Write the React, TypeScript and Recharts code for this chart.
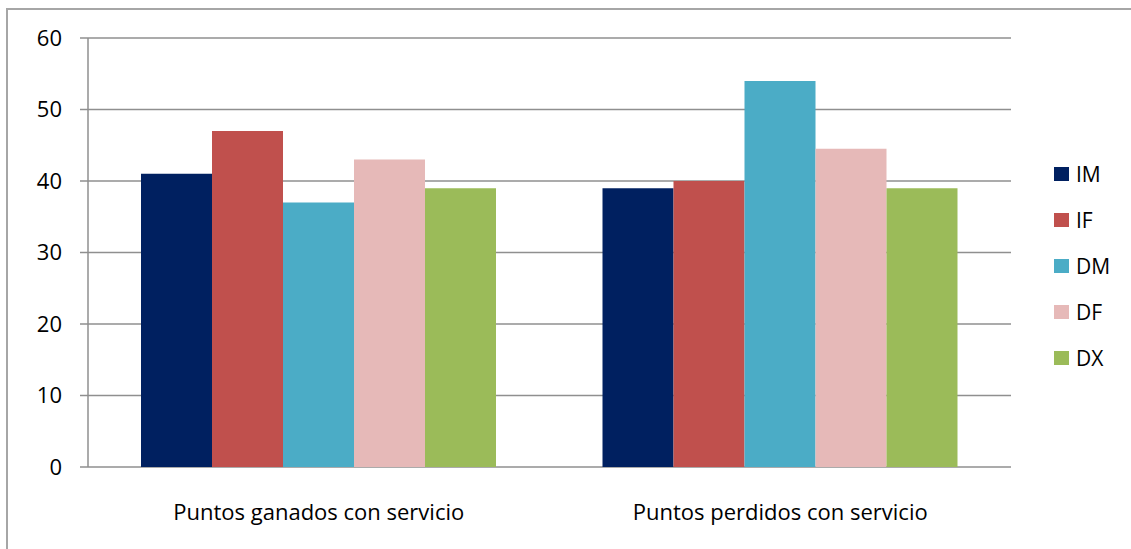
import { BarChart, Bar, XAxis, YAxis, CartesianGrid } from "recharts";

const categories = ["Puntos ganados con servicio", "Puntos perdidos con servicio"];
const imValues = [41, 39];
const ifValues = [47, 40];
const dmValues = [37, 54];
const dfValues = [43, 44.5];
const dxValues = [39, 39];
const yTicks = [0, 10, 20, 30, 40, 50, 60];
const boundaryTicks = [0, 1, 2];

const SERIES = [
  { key: "IM", color: "#002060" },
  { key: "IF", color: "#C0504D" },
  { key: "DM", color: "#4BACC6" },
  { key: "DF", color: "#E6B9B8" },
  { key: "DX", color: "#9BBB59" },
];

const data = categories.map((name, i) => ({
  name,
  pos: i + 0.5,
  IM: imValues[i],
  IF: ifValues[i],
  DM: dmValues[i],
  DF: dfValues[i],
  DX: dxValues[i],
}));

const FONT = "'Open Sans', sans-serif";
const GRID = "#8f8f8f";

function LegendBox() {
  return (
    <div style={{ position: "absolute", left: 1054, top: 151, fontFamily: FONT, fontSize: 21, color: "#000" }}>
      {SERIES.map((s) => (
        <div key={s.key} style={{ display: "flex", alignItems: "center", height: 46 }}>
          <span style={{ width: 15, height: 14, background: s.color, marginRight: 7 }} />
          <span>{s.key}</span>
        </div>
      ))}
    </div>
  );
}

export default function App() {
  return (
    <div style={{ position: "absolute", left: 0, top: 0, width: 1131, height: 549, background: "#fff", overflow: "hidden" }}>
      <div
        style={{
          position: "absolute",
          left: 6,
          top: 8,
          width: 1131,
          height: 549,
          borderLeft: "2px solid #a6a6a6",
          borderTop: "2px solid #a6a6a6",
        }}
      />
      <div style={{ position: "absolute", left: 0, top: 0 }}>
        <BarChart
          width={1131}
          height={549}
          data={data}
          margin={{ top: 38, right: 120, left: 0, bottom: 0 }}
          barCategoryGap={53}
          barGap={0}
        >
          <CartesianGrid stroke={GRID} strokeWidth={1.5} vertical={false} />
          <XAxis
            xAxisId="bounds"
            type="number"
            dataKey="pos"
            domain={[0, 2]}
            ticks={boundaryTicks}
            tick={false}
            tickSize={8}
            axisLine={{ stroke: GRID, strokeWidth: 1.5 }}
            tickLine={{ stroke: GRID, strokeWidth: 1.5 }}
            height={0}
          />
          <XAxis
            xAxisId="cat"
            dataKey="name"
            axisLine={false}
            tickLine={false}
            tickMargin={31}
            height={82}
            tick={{ fontFamily: FONT, fontSize: 22, fill: "#000" }}
          />
          <YAxis
            domain={[0, 60]}
            ticks={yTicks}
            width={88}
            tickSize={8}
            tickMargin={18}
            axisLine={{ stroke: GRID, strokeWidth: 1.5 }}
            tickLine={{ stroke: GRID, strokeWidth: 1.5 }}
            tick={{ fontFamily: FONT, fontSize: 22, fill: "#000" }}
          />
          {SERIES.map((s) => (
            <Bar key={s.key} xAxisId="cat" dataKey={s.key} fill={s.color} isAnimationActive={false} />
          ))}
        </BarChart>
      </div>
      <LegendBox />
    </div>
  );
}
